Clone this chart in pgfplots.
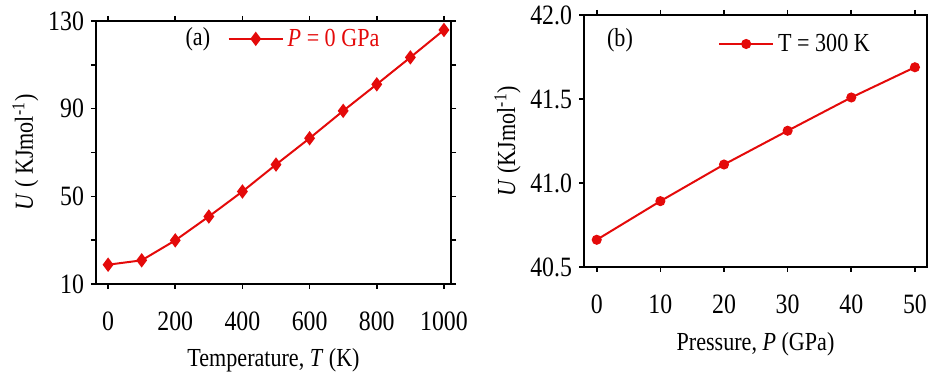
\documentclass[border=0pt]{standalone}
\usepackage{fontspec}
\setmainfont[FakeStretch=0.85]{Liberation Serif}
\usepackage{pgfplots}
\pgfplotsset{compat=1.18}
\definecolor{pred}{RGB}{228,10,10}
\begin{document}
\begin{tikzpicture}
\useasboundingbox (0,0) rectangle (464pt,189.5pt);
\pgfplotsset{
  every axis/.append style={
    scale only axis,
    axis line style={line width=1pt},
    tick style={line width=0.8pt, black},
    tick align=outside,
    major tick length=2.5pt,
    /pgf/number format/assume math mode=true,
    /pgf/number format/1000 sep={},
    font=\fontsize{13}{15}\selectfont,
    tick label style={font=\fontsize{14}{16}\selectfont},
    legend image code/.code={\draw[mark repeat=2,mark phase=2,#1] plot coordinates {(0pt,0pt) (13.5pt,0pt) (27pt,0pt)};},
  }
}
\begin{axis}[
  at={(48pt,47.5pt)}, anchor=south west,
  width=177.5pt, height=131.5pt,
  xmin=-36, xmax=1021, ymin=10, ymax=130,
  xtick={0,200,...,1000},
  ytick={10,30,...,130},
  yticklabels={10,,50,,90,,130},
  xticklabel style={yshift=-8pt},
  xlabel={Temperature, \textit{T} (K)},
  ylabel={\textit{U} ( KJmol\textsuperscript{-1})},
  xlabel style={yshift=-2pt},
  ylabel style={yshift=-2pt},
  legend style={draw=none, fill=none, at={(axis description cs:0.37,0.932)}, anchor=west, inner sep=0pt, text=pred, font=\fontsize{13}{15}\selectfont},
]
\addplot[pred, line width=1pt, mark=diamond*, mark size=2.8pt, mark options={fill=pred}] coordinates {
(0,18.8) (100,20.8) (200,29.9) (300,40.8) (400,52.2) (500,64.5) (600,76.5) (700,89.0) (800,101.1) (900,113.4) (1000,125.9)
};
\addlegendentry{\textit{P} = 0 GPa}
\node at (axis description cs:0.287,0.932) {(a)};
\end{axis}
\begin{axis}[
  at={(292pt,56pt)}, anchor=south west,
  width=171.5pt, height=126pt,
  xmin=-2, xmax=51.9, ymin=40.5, ymax=42,
  xtick={0,10,...,50},
  ytick={40.5,41,41.5,42},
  yticklabel style={/pgf/number format/.cd, fixed, fixed zerofill, precision=1},
  xticklabel style={yshift=-8pt},
  xlabel={Pressure, \textit{P} (GPa)},
  ylabel={\textit{U} (KJmol\textsuperscript{-1})},
  xlabel style={yshift=-2.5pt},
  ylabel style={yshift=-2pt},
  legend style={draw=none, fill=none, at={(axis description cs:0.39,0.885)}, anchor=west, inner sep=0pt, font=\fontsize{13}{15}\selectfont},
]
\addplot[pred, line width=1pt, mark=*, mark size=2pt, mark options={fill=pred}] coordinates {
(0,40.662) (10,40.892) (20,41.110) (30,41.311) (40,41.509) (50,41.689)
};
\addlegendentry{T = 300 K}
\node at (axis description cs:0.105,0.90) {(b)};
\end{axis}
\end{tikzpicture}
\end{document}
